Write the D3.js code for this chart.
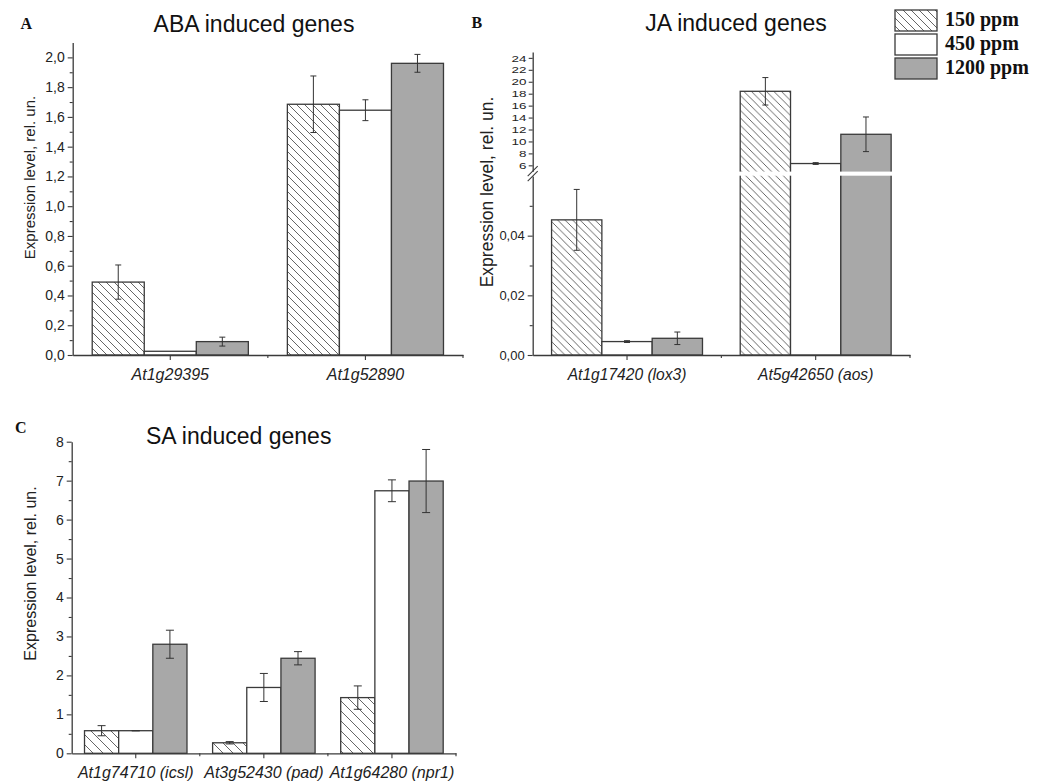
<!DOCTYPE html>
<html lang="en">

<head>
    <meta charset="UTF-8">
    <title>Expression levels</title>
    <style>
        * {
            margin: 0;
            padding: 0;
        }

        html,
        body {
            overflow: hidden;
            background: #fff;
        }
    </style>
</head>

<body>
    <div id="chart"></div>
    <script src="https://cdn.jsdelivr.net/npm/d3@7"></script>
    <script>
        // series
        const concentrations = ['150 ppm', '450 ppm', '1200 ppm']

        // A - ABA
        const abaGenes = ['At1g29395', 'At1g52890']
        const abaMean = [[0.49, 0.025, 0.09], [1.685, 1.645, 1.96]]
        const abaErr = [[0.115, 0, 0.03], [0.19, 0.07, 0.06]]
        const abaTicks = [0, 0.2, 0.4, 0.6, 0.8, 1.0, 1.2, 1.4, 1.6, 1.8, 2.0]

        // B - JA (broken axis)
        const jaGenes = ['At1g17420 (lox3)', 'At5g42650 (aos)']
        const jaMean = [[0.0453, 0.0045, 0.0056], [18.4, 6.3, 11.2]]
        const jaErr = [[0.0102, 0.0003, 0.0021], [2.3, 0.15, 2.9]]
        const jaLowTicks = [0, 0.02, 0.04]
        const jaHighTicks = [6, 8, 10, 12, 14, 16, 18, 20, 22, 24]

        // C - SA
        const saGenes = ['At1g74710 (icsl)', 'At3g52430 (pad)', 'At1g64280 (npr1)']
        const saMean = [[0.58, 0.58, 2.80], [0.27, 1.69, 2.44], [1.43, 6.74, 6.99]]
        const saErr = [[0.13, 0.005, 0.36], [0.03, 0.36, 0.17], [0.3, 0.28, 0.81]]
        const saTicks = [0, 1, 2, 3, 4, 5, 6, 7, 8]

        const sans = 'Liberation Sans, Arial, sans-serif'
        const serif = 'Liberation Serif, Times New Roman, serif'
        const ink = '#3a3a3a'
        const grey = '#a8a8a8'
        const fills = ['url(#hatch)', '#fff', grey]

        const locale = d3.formatLocale({ decimal: ',', thousands: ' ', grouping: [3], currency: ['', ''] })

        const svg = d3.select('#chart')
            .append('svg')
            .attr('width', 1050)
            .attr('height', 783)
            .style('background-color', '#fff')

        const defs = svg.append('defs')
        function hatch(id, s) {
            const p = defs.append('pattern')
                .attr('id', id)
                .attr('patternUnits', 'userSpaceOnUse')
                .attr('width', s)
                .attr('height', s)
            p.append('rect').attr('width', s).attr('height', s).attr('fill', '#fff')
            p.append('path')
                .attr('d', `M0,0L${s},${s}M${-s / 2},${s / 2}L${s / 2},${s * 1.5}M${s / 2},${-s / 2}L${s * 1.5},${s / 2}`)
                .attr('stroke', '#555')
                .attr('stroke-width', 0.9)
        }
        hatch('hatch', 8)
        hatch('hatchB', 7.5)
        hatch('hatchC', 10)

        function styleAxis(g, fontSize) {
            g.selectAll('.domain').attr('stroke', ink).attr('stroke-width', 1.3)
            g.selectAll('.tick line').attr('stroke', ink).attr('stroke-width', 1.1)
            g.selectAll('.tick text')
                .attr('fill', '#222')
                .style('font-family', sans)
                .style('font-size', fontSize + 'px')
        }

        function xAxis(g, x, y0, fontSize) {
            const ax = g.append('g')
                .attr('transform', `translate(0,${y0})`)
                .call(d3.axisBottom(x).tickSize(5).tickSizeOuter(0).tickPadding(5))
            styleAxis(ax, fontSize)
            ax.selectAll('.tick text').style('font-style', 'italic').attr('dy', '0.95em')
            // minor ticks at group boundaries
            const edges = x.domain().map(d => x(d)).slice(1).concat([x.range()[1]])
            ax.selectAll('line.minor')
                .data(edges)
                .join('line')
                .attr('class', 'minor')
                .attr('x1', d => d)
                .attr('x2', d => d)
                .attr('y1', 0)
                .attr('y2', 3)
                .attr('stroke', ink)
                .attr('stroke-width', 1.1)
        }

        function yAxis(g, y, x0, ticks, minor, fmt, fontSize) {
            const ax = g.append('g')
                .attr('transform', `translate(${x0},0)`)
                .call(d3.axisLeft(y).tickValues(ticks).tickSize(5).tickSizeOuter(0).tickPadding(3).tickFormat(fmt))
            styleAxis(ax, fontSize)
            if (minor.length) {
                const mn = g.append('g')
                    .attr('transform', `translate(${x0},0)`)
                    .call(d3.axisLeft(y).tickValues(minor).tickSize(3).tickSizeOuter(0).tickFormat(''))
                mn.select('.domain').remove()
                styleAxis(mn, fontSize)
            }
            return ax
        }

        function bars(g, genes, mean, err, x, yOf, y0, pattern, capW) {
            const inner = d3.scaleBand()
                .domain(concentrations)
                .range([0, x.bandwidth()])
                .paddingOuter(0.375)
            const rows = []
            genes.forEach((gene, gi) => {
                concentrations.forEach((c, si) => {
                    rows.push({ gene, c, si, m: mean[gi][si], e: err[gi][si] })
                })
            })
            g.selectAll('rect.bar')
                .data(rows)
                .join('rect')
                .attr('class', 'bar')
                .attr('x', d => x(d.gene) + inner(d.c))
                .attr('y', d => yOf(d.m, d.m))
                .attr('width', inner.bandwidth())
                .attr('height', d => y0 - yOf(d.m, d.m))
                .attr('fill', d => d.si === 0 ? `url(#${pattern})` : fills[d.si])
                .attr('stroke', ink)
                .attr('stroke-width', 1.3)

            const eb = g.selectAll('g.err')
                .data(rows.filter(d => d.e > 0))
                .join('g')
                .attr('class', 'err')
                .attr('transform', d => `translate(${x(d.gene) + inner(d.c) + inner.bandwidth() / 2},0)`)
            eb.append('line')
                .attr('y1', d => yOf(d.m + d.e, d.m))
                .attr('y2', d => yOf(d.m - d.e, d.m))
            eb.append('line')
                .attr('x1', -capW / 2).attr('x2', capW / 2)
                .attr('y1', d => yOf(d.m + d.e, d.m))
                .attr('y2', d => yOf(d.m + d.e, d.m))
            eb.append('line')
                .attr('x1', -capW / 2).attr('x2', capW / 2)
                .attr('y1', d => yOf(d.m - d.e, d.m))
                .attr('y2', d => yOf(d.m - d.e, d.m))
            eb.selectAll('line').attr('stroke', '#333').attr('stroke-width', 1)
        }

        function titles(g, letter, lx, ly, title, tx, ty, ylab, yx, yy, ysize) {
            g.append('text')
                .attr('x', lx).attr('y', ly)
                .text(letter)
                .style('font-family', serif)
                .style('font-weight', 'bold')
                .style('font-size', '16px')
                .attr('fill', '#111')
            g.append('text')
                .attr('x', tx).attr('y', ty)
                .text(title)
                .attr('text-anchor', 'middle')
                .style('font-family', sans)
                .style('font-size', '23px')
                .attr('fill', '#111')
            g.append('text')
                .attr('transform', `translate(${yx},${yy}) rotate(-90)`)
                .text(ylab)
                .attr('text-anchor', 'middle')
                .attr('dy', '0.35em')
                .style('font-family', sans)
                .style('font-size', ysize + 'px')
                .attr('fill', '#222')
        }

        const yLabel = 'Expression level, rel. un.'

        // ---------- A ----------
        const gA = svg.append('g')
        const xA = d3.scaleBand().domain(abaGenes).range([72.7, 463])
        const yA = d3.scaleLinear().domain([0, 2.1]).range([355, 42.5])
        bars(gA, abaGenes, abaMean, abaErr, xA, v => yA(v), yA(0), 'hatch', 6)
        yAxis(gA, yA, 72.7, abaTicks, d3.range(0.1, 2.1, 0.2), locale.format('.1f'), 14)
        xAxis(gA, xA, yA(0), 16)
        titles(gA, 'A', 20.5, 29, 'ABA induced genes', 254, 32, yLabel, 30, 177.5, 15)

        // ---------- B ----------
        const gB = svg.append('g')
        const xB = d3.scaleBand().domain(jaGenes).range([532.7, 910])
        const yLow = d3.scaleLinear().domain([0, 0.06]).range([355, 176])
        const yHigh = d3.scaleLinear().domain([5, 25]).range([171.3, 51.9])
        const lowMax = yLow.domain()[1]
        const yB = (v, ref) => ref > lowMax ? yHigh(v) : yLow(v)
        bars(gB, jaGenes, jaMean, jaErr, xB, yB, yLow(0), 'hatchB', 6)
        // gap of the broken axis
        gB.append('rect')
            .attr('x', 528)
            .attr('y', yHigh(5) + 0.3)
            .attr('width', 910 - 528)
            .attr('height', yLow(lowMax) - yHigh(5) - 0.6)
            .attr('fill', '#fff')
        yAxis(gB, yLow, 532.7, jaLowTicks, [0.01, 0.03, 0.05], locale.format('.2f'), 13)
        const hi = yAxis(gB, yHigh, 532.7, jaHighTicks, [], d3.format('d'), 12)
        hi.selectAll('.tick line').attr('x2', -4)
        hi.selectAll('.tick text')
            .attr('x', -5.5)
            .attr('dy', '0.32em')
            .attr('transform', 'scale(1.12,0.82)')
        const yc = (yHigh(5) + yLow(lowMax)) / 2
        gB.selectAll('line.brk')
            .data([-2.5, 2.5])
            .join('line')
            .attr('class', 'brk')
            .attr('x1', 527.7).attr('x2', 537.7)
            .attr('y1', d => yc + d + 5).attr('y2', d => yc + d - 5)
            .attr('stroke', ink)
            .attr('stroke-width', 1.1)
        xAxis(gB, xB, yLow(0), 15.6)
        titles(gB, 'B', 471.5, 28, 'JA induced genes', 736, 31, yLabel, 487, 192, 17.5)

        // ---------- C ----------
        const gC = svg.append('g')
        const xC = d3.scaleBand().domain(saGenes).range([71.7, 456])
        const yC = d3.scaleLinear().domain([0, 8]).range([753.3, 441.7])
        bars(gC, saGenes, saMean, saErr, xC, v => yC(v), yC(0), 'hatchC', 8)
        yAxis(gC, yC, 71.7, saTicks, d3.range(0.5, 8, 1), d3.format('d'), 14)
        xAxis(gC, xC, yC(0), 16)
        titles(gC, 'C', 15, 432.7, 'SA induced genes', 238.7, 444, yLabel, 30, 573.5, 16)

        // ---------- legend ----------
        const legend = svg.append('g')
            .attr('transform', 'translate(895,10)')
        const items = legend.selectAll('g')
            .data(concentrations)
            .join('g')
            .attr('transform', (d, i) => `translate(0,${i * 24})`)
        items.append('rect')
            .attr('width', 42)
            .attr('height', 21)
            .attr('fill', (d, i) => fills[i])
            .attr('stroke', ink)
            .attr('stroke-width', 1.3)
        items.append('text')
            .attr('x', 50)
            .attr('y', 16)
            .text(d => d)
            .style('font-family', serif)
            .style('font-weight', 'bold')
            .style('font-size', '20px')
            .attr('fill', '#111')
    </script>
</body>

</html>
